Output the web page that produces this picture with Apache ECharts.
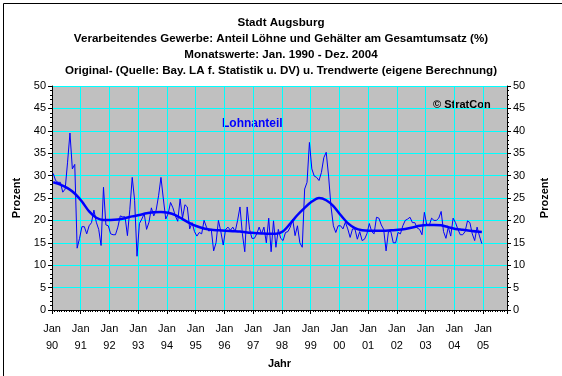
<!DOCTYPE html>
<html>
<head>
<meta charset="utf-8">
<script src="https://cdn.jsdelivr.net/npm/echarts@6/dist/echarts.min.js"></script>
<style>
  html, body { margin: 0; padding: 0; background: #fff; }
  #chart { width: 562px; height: 376px; }
</style>
</head>
<body>
<div id="chart"></div>
<script>
// Monatswerte Jan. 1990 - Dez. 2004 (Lohnanteil in %)
var y1990 = [30.5, 28.9, 28.5, 28.5, 26.3, 27, 33, 39.5, 31.5, 32.5, 13.8, 16];
var y1991 = [18.6, 18.6, 17, 18.8, 19.5, 22.3, 19.6, 18, 14.4, 27.4, 19, 18.8];
var y1992 = [17, 16.8, 16.8, 18.5, 21, 20.8, 20.8, 16.6, 22.5, 29.6, 24.5, 12];
var y1993 = [19.3, 20.3, 21.5, 18, 19.6, 22.8, 21, 22.3, 25.5, 29.6, 24.8, 20.3];
var y1994 = [21.5, 24, 22.8, 21, 19.8, 24.8, 20.5, 23.5, 23, 18.1, 19.5, 17.5];
var y1995 = [16.5, 17.3, 17, 20, 18.5, 17.6, 18, 13.2, 15, 20, 17.5, 14.5];
var y1996 = [18, 18.5, 17.8, 18.5, 17.5, 20, 23, 17, 13, 23, 18, 16];
var y1997 = [16, 17, 18.5, 17, 18.5, 15, 20.5, 13, 19.9, 14, 18, 16];
var y1998 = [15.5, 17.3, 17.5, 18.5, 20.3, 16.6, 18.8, 15, 14, 27, 28.5, 37.4];
var y1999 = [31.5, 29.9, 29.6, 28.9, 30.7, 34, 35.2, 29.9, 23.1, 18.8, 17.3, 18.8];
var y2000 = [18.8, 18.1, 19.6, 18.1, 16.2, 18.1, 18.1, 15.8, 17.5, 15.5, 15.8, 17];
var y2001 = [19.3, 17.5, 17, 20.7, 20.5, 19, 18, 13.2, 17.5, 17.5, 15, 15];
var y2002 = [17.3, 17, 18.8, 20, 20.3, 20.7, 19.5, 19.5, 18.3, 18, 16.8, 21.8];
var y2003 = [19, 18.8, 20.5, 20, 20, 20.5, 22, 17.5, 16, 18.5, 16.5, 20.5];
var y2004 = [19.5, 18, 16.8, 16.8, 17.5, 19.9, 19.5, 17, 15.5, 18.5, 16.5, 14.8];

var trend = [28.5, 28.0, 27.2, 26.0, 24.2, 22.0, 20.6, 20.1, 20.1, 20.2, 20.5, 20.9,
  21.2, 21.6, 21.8, 21.9, 21.7, 21.2, 20.3, 19.4, 18.7, 18.2, 17.9, 17.8,
  17.7, 17.6, 17.5, 17.3, 17.2, 17.1, 17.0, 17.0, 17.6, 19.3, 21.2, 22.8,
  24.2, 25.0, 24.5, 23.2, 21.2, 19.4, 18.3, 17.8, 17.7, 17.7, 17.7, 17.8,
  17.9, 18.1, 18.4, 18.8, 19.0, 19.0, 18.9, 18.5, 18.1, 17.9, 17.7, 17.5, 17.4];

var yearLabels = ['90', '91', '92', '93', '94', '95', '96', '97', '98', '99', '00', '01', '02', '03', '04', '05'];
var titleLines = [
  'Stadt Augsburg',
  'Verarbeitendes Gewerbe: Anteil Löhne und Gehälter am Gesamtumsatz (%)',
  'Monatswerte: Jan. 1990 - Dez. 2004',
  'Original- (Quelle: Bay. LA f. Statistik u. DV) u. Trendwerte (eigene Berechnung)'
];

var monthly = [].concat(y1990, y1991, y1992, y1993, y1994, y1995, y1996, y1997,
  y1998, y1999, y2000, y2001, y2002, y2003, y2004);
var rawData = monthly.map(function (v, i) { return [i + 0.5, v]; });
var trendData = trend.map(function (v, j) { return [Math.min(j * 3, 179) + 0.5, v]; });

var FONT = 'Liberation Sans';
var chart = echarts.init(document.getElementById('chart'));

function yAxis(pos) {
  return {
    type: 'value', position: pos, min: 0, max: 50, interval: 5,
    name: 'Prozent', nameLocation: 'middle', nameRotate: 90,
    nameGap: pos === 'left' ? 30 : 32,
    nameTextStyle: { fontFamily: FONT, fontSize: 11, fontWeight: 'bold', color: '#000' },
    axisLine: { show: true, lineStyle: { color: '#000', width: 1 } },
    axisTick: { show: true, length: 4, lineStyle: { color: '#000' } },
    minorTick: { show: true, splitNumber: 5, length: 2, lineStyle: { color: '#000' } },
    axisLabel: { fontFamily: FONT, fontSize: 11, color: '#000', margin: 6 },
    splitLine: { show: pos === 'left', lineStyle: { color: '#00ffff', width: 1 } }
  };
}

var option = {
  backgroundColor: '#fff',
  animation: false,
  title: titleLines.map(function (t, k) {
    return {
      text: t, left: 'center', top: 12 + k * 16,
      textStyle: { fontFamily: FONT, fontSize: 11.6, fontWeight: 'bold', color: '#000' }
    };
  }),
  grid: { left: 52, right: 55, top: 86, bottom: 66, show: true,
    backgroundColor: '#c0c0c0', borderWidth: 0 },
  xAxis: {
    type: 'value', min: 0, max: 190, interval: 12,
    name: 'Jahr', nameLocation: 'middle', nameGap: 42,
    nameTextStyle: { fontFamily: FONT, fontSize: 11, fontWeight: 'bold', color: '#000' },
    axisLine: { show: true, onZero: false, lineStyle: { color: '#000' } },
    axisTick: { show: true, length: 4, lineStyle: { color: '#000' } },
    minorTick: { show: true, splitNumber: 12, length: 2, lineStyle: { color: '#000' } },
    axisLabel: {
      fontFamily: FONT, fontSize: 11, color: '#000', margin: 10, lineHeight: 17,
      showMaxLabel: false,
      formatter: function (v) {
        if (v % 12 !== 0) return '';
        var lab = yearLabels[v / 12];
        return lab ? 'Jan\n' + lab : '';
      }
    },
    splitLine: { show: true, lineStyle: { color: '#00ffff', width: 1 } }
  },
  yAxis: [yAxis('left'), yAxis('right')],
  graphic: [
    { type: 'rect', left: 1, top: 1, shape: { width: 559, height: 373 },
      style: { fill: 'none', stroke: '#000', lineWidth: 1 }, silent: true },
    { type: 'text', left: 222, top: 118,
      style: { text: 'Lohnanteil', fill: '#0000ff', font: 'bold 12px "Liberation Sans"' } },
    { type: 'text', left: 433, top: 99,
      style: { text: '© StratCon', fill: '#000', font: 'bold 11px "Liberation Sans"' } }
  ],
  series: [
    { name: 'Original', type: 'line', data: rawData, showSymbol: false,
      lineStyle: { color: '#0000ff', width: 1 }, itemStyle: { color: '#0000ff' } },
    { name: 'Trend', type: 'line', data: trendData, showSymbol: false, smooth: 0.3,
      lineStyle: { color: '#0000ff', width: 2.5 }, itemStyle: { color: '#0000ff' } }
  ]
};
chart.setOption(option);
</script>
</body>
</html>
